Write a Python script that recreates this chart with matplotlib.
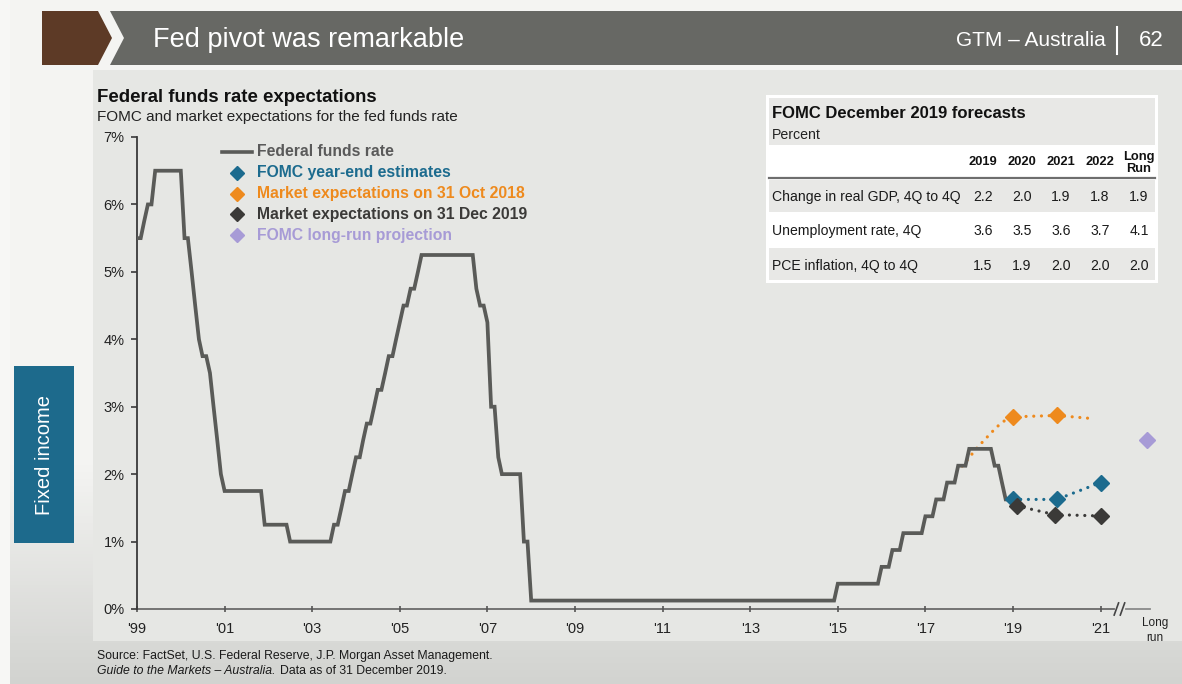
import numpy as np
import pandas as pd
import matplotlib
matplotlib.use('Agg')
import matplotlib.pyplot as plt
from matplotlib.patches import Rectangle, Polygon
from matplotlib.lines import Line2D

plt.rcParams['font.family'] = ['Liberation Sans', 'DejaVu Sans']

# ---------------- data ----------------
# month-end fed funds target (midpoint of range after 2008), Dec 1999 .. Dec 2019
fed_funds = [
    5.50,                                                                          # Dec 1999
    5.50, 5.75, 6.00, 6.00, 6.50, 6.50, 6.50, 6.50, 6.50, 6.50, 6.50, 6.50,        # 2000
    5.50, 5.50, 5.00, 4.50, 4.00, 3.75, 3.75, 3.50, 3.00, 2.50, 2.00, 1.75,        # 2001
    1.75, 1.75, 1.75, 1.75, 1.75, 1.75, 1.75, 1.75, 1.75, 1.75, 1.25, 1.25,        # 2002
    1.25, 1.25, 1.25, 1.25, 1.25, 1.00, 1.00, 1.00, 1.00, 1.00, 1.00, 1.00,        # 2003
    1.00, 1.00, 1.00, 1.00, 1.00, 1.25, 1.25, 1.50, 1.75, 1.75, 2.00, 2.25,        # 2004
    2.25, 2.50, 2.75, 2.75, 3.00, 3.25, 3.25, 3.50, 3.75, 3.75, 4.00, 4.25,        # 2005
    4.50, 4.50, 4.75, 4.75, 5.00, 5.25, 5.25, 5.25, 5.25, 5.25, 5.25, 5.25,        # 2006
    5.25, 5.25, 5.25, 5.25, 5.25, 5.25, 5.25, 5.25, 4.75, 4.50, 4.50, 4.25,        # 2007
    3.00, 3.00, 2.25, 2.00, 2.00, 2.00, 2.00, 2.00, 2.00, 1.00, 1.00, 0.125,       # 2008
    0.125, 0.125, 0.125, 0.125, 0.125, 0.125, 0.125, 0.125, 0.125, 0.125, 0.125, 0.125,  # 2009
    0.125, 0.125, 0.125, 0.125, 0.125, 0.125, 0.125, 0.125, 0.125, 0.125, 0.125, 0.125,  # 2010
    0.125, 0.125, 0.125, 0.125, 0.125, 0.125, 0.125, 0.125, 0.125, 0.125, 0.125, 0.125,  # 2011
    0.125, 0.125, 0.125, 0.125, 0.125, 0.125, 0.125, 0.125, 0.125, 0.125, 0.125, 0.125,  # 2012
    0.125, 0.125, 0.125, 0.125, 0.125, 0.125, 0.125, 0.125, 0.125, 0.125, 0.125, 0.125,  # 2013
    0.125, 0.125, 0.125, 0.125, 0.125, 0.125, 0.125, 0.125, 0.125, 0.125, 0.125, 0.125,  # 2014
    0.125, 0.125, 0.125, 0.125, 0.125, 0.125, 0.125, 0.125, 0.125, 0.125, 0.125, 0.375,  # 2015
    0.375, 0.375, 0.375, 0.375, 0.375, 0.375, 0.375, 0.375, 0.375, 0.375, 0.375, 0.625,  # 2016
    0.625, 0.625, 0.875, 0.875, 0.875, 1.125, 1.125, 1.125, 1.125, 1.125, 1.125, 1.375,  # 2017
    1.375, 1.375, 1.625, 1.625, 1.625, 1.875, 1.875, 1.875, 2.125, 2.125, 2.125, 2.375,  # 2018
    2.375, 2.375, 2.375, 2.375, 2.375, 2.375, 2.125, 2.125, 1.875, 1.625, 1.625, 1.625,  # 2019
]
months = pd.date_range('1999-12-31', '2019-12-31', freq='ME')

# market expectations on 31 Oct 2018 (decimal year, %)
oct18_path_x = [2018.84, 2019.18, 2019.41, 2019.63, 2019.86, 2020.00, 2021.00, 2021.71]
oct18_path_y = [2.12, 2.39, 2.55, 2.70, 2.82, 2.85, 2.87, 2.83]
oct18_mark_x = [2020.00, 2021.00]
oct18_mark_y = [2.85, 2.87]

# FOMC year-end estimates (end 2019, 2020, 2021)
fomc_x = [2020.00, 2021.00, 2022.00]
fomc_y = [1.625, 1.625, 1.875]

# market expectations on 31 Dec 2019
dec19_x = [2020.08, 2020.95, 2022.00]
dec19_y = [1.53, 1.40, 1.38]

# FOMC long-run projection
long_run_x = 2023.06
long_run_y = 2.5

year_ticks = [2000, 2002, 2004, 2006, 2008, 2010, 2012, 2014, 2016, 2018, 2020, 2022]
year_labels = ["'99", "'01", "'03", "'05", "'07", "'09", "'11", "'13", "'15", "'17", "'19", "'21"]

table_cols = ['2019', '2020', '2021', '2022']
table_rows = ['Change in real GDP, 4Q to 4Q', 'Unemployment rate, 4Q', 'PCE inflation, 4Q to 4Q']
gdp = [2.2, 2.0, 1.9, 1.8, 1.9]
unemp = [3.6, 3.5, 3.6, 3.7, 4.1]
pce = [1.5, 1.9, 2.0, 2.0, 2.0]

# ---------------- colours ----------------
c_line = '#5a5b58'
c_blue = '#1c6b8e'
c_orange = '#ee8a1d'
c_dark = '#3b3a38'
c_lav = '#a79bd6'

W, H = 1182, 684


def fx(px):
    return px / W


def fy(py):
    return 1 - py / H


fig = plt.figure(figsize=(W / 100, H / 100), dpi=100)
fig.patch.set_facecolor('#f4f4f2')

# background gradient (darker toward the bottom)
bg = fig.add_axes([0, 0, 1, 1], zorder=-10)
grad = np.linspace(0, 1, 200)
grad = np.clip((grad - 0.68) / 0.32, 0, 1)
bg.imshow(grad[:, None], aspect='auto', cmap=matplotlib.colors.LinearSegmentedColormap.from_list(
    'g', ['#f4f4f2', '#d2d3d0']), extent=[0, 1, 0, 1], origin='upper')
bg.axis('off')
fig.patches.append(Rectangle((0, 0), fx(10), 1, transform=fig.transFigure,
                             facecolor='#f7f7f5', edgecolor='none', zorder=-5))

# chart panel
fig.patches.append(Rectangle((fx(93), fy(641)), fx(1182) - fx(93), fy(70) - fy(641),
                             transform=fig.transFigure, facecolor='#e6e7e4',
                             edgecolor='none', zorder=-5))

# banner
fig.patches.append(Polygon([(fx(42), fy(11)), (fx(98), fy(11)), (fx(112), fy(38)),
                            (fx(98), fy(65)), (fx(42), fy(65))], closed=True,
                           transform=fig.transFigure, facecolor='#5d3a26', edgecolor='none'))
fig.patches.append(Polygon([(fx(110), fy(11)), (fx(1182), fy(11)), (fx(1182), fy(65)),
                            (fx(110), fy(65)), (fx(124), fy(38))], closed=True,
                           transform=fig.transFigure, facecolor='#676864', edgecolor='none'))
fig.text(fx(153), fy(40), 'Fed pivot was remarkable', color='white', fontsize=19.5,
         va='center', ha='left')
fig.text(fx(1106), fy(40), 'GTM \u2013 Australia', color='white', fontsize=15,
         va='center', ha='right')
fig.add_artist(Line2D([fx(1117), fx(1117)], [fy(27), fy(54)], transform=fig.transFigure,
                      color='white', lw=1.5))
fig.text(fx(1151), fy(40), '62', color='white', fontsize=16, va='center', ha='center')

# side tab
fig.patches.append(Rectangle((fx(14), fy(543)), fx(74) - fx(14), fy(366) - fy(543),
                             transform=fig.transFigure, facecolor='#1d6a8c', edgecolor='none'))
fig.text(fx(44), fy(455), 'Fixed income', color='white', fontsize=14.5, rotation=90,
         va='center', ha='center')

# titles
fig.text(fx(97), fy(97), 'Federal funds rate expectations', fontsize=13.4, fontweight='bold',
         color='#111111', va='center')
fig.text(fx(97), fy(117), 'FOMC and market expectations for the fed funds rate', fontsize=11,
         color='#222222', va='center')

# ---------------- main axes ----------------
ax = fig.add_axes([fx(137), fy(609), fx(1150) - fx(137), fy(137) - fy(609)])
ax.patch.set_visible(False)
ax.set_xlim(2000, 2000 + (1150 - 137) / 43.8)
ax.set_ylim(0, 7)

xdec = months.year + months.dayofyear / (365 + months.is_leap_year.astype(int))
ax.plot(xdec, fed_funds, color=c_line, lw=2.7, solid_joinstyle='miter', zorder=3)

dot = dict(linestyle=(0, (0.01, 2.4)), lw=2.3, dash_capstyle='round')
ax.plot(oct18_path_x, oct18_path_y, color=c_orange, zorder=2, **dot)
ax.plot(oct18_mark_x, oct18_mark_y, 'D', color=c_orange, ms=8.5, zorder=4)
ax.plot(fomc_x, fomc_y, color=c_blue, zorder=4, **dot)
ax.plot(fomc_x, fomc_y, 'D', color=c_blue, ms=8.5, zorder=5)
ax.plot(dec19_x, dec19_y, color=c_dark, zorder=4, **dot)
ax.plot(dec19_x, dec19_y, 'D', color=c_dark, ms=8.5, zorder=6)
ax.plot([long_run_x], [long_run_y], 'D', color=c_lav, ms=8.5, zorder=4, clip_on=False)

for s in ['top', 'right', 'bottom']:
    ax.spines[s].set_visible(False)
ax.spines['left'].set_color('#3a3a3a')
ax.spines['left'].set_linewidth(1.3)
ax.set_yticks(range(0, 8))
ax.set_yticklabels([f'{v}%' for v in range(0, 8)])
ax.tick_params(axis='y', direction='out', length=4, width=1.2, color='#3a3a3a',
               labelsize=10.5, labelcolor='#222222', pad=5)
ax.set_xticks(year_ticks)
ax.set_xticklabels(year_labels)
ax.tick_params(axis='x', direction='inout', length=5, width=1.2, color='#555555',
               labelsize=10.5, labelcolor='#222222', pad=7)

# x axis line with break before "Long run"
ax.plot([2000, 2022.30], [0, 0], color='#6a6a6a', lw=1.3, clip_on=False, zorder=1)
ax.plot([2022.58, 2023.13], [0, 0], color='#8a8a8a', lw=1.3, clip_on=False, zorder=1)
for bx in [2022.36, 2022.50]:
    ax.plot([bx - 0.05, bx + 0.05], [-0.09, 0.09], color='#444444', lw=1.2, clip_on=False)
ax.text(2023.24, -0.12, 'Long\nrun', ha='center', va='top',
        fontsize=8.5, color='#222222', linespacing=1.3)

# legend
fig.add_artist(Line2D([fx(222), fx(252)], [fy(152), fy(152)], transform=fig.transFigure,
                      color=c_line, lw=2.6))
leg = [('Federal funds rate', '#5a5a5a', None),
       ('FOMC year-end estimates', c_blue, c_blue),
       ('Market expectations on 31 Oct 2018', c_orange, c_orange),
       ('Market expectations on 31 Dec 2019', c_dark, c_dark),
       ('FOMC long-run projection', c_lav, c_lav)]
for i, (lab, tc, mc) in enumerate(leg):
    ly = 152 + i * 20.8
    if mc is not None:
        fig.add_artist(Line2D([fx(237)], [fy(ly)], transform=fig.transFigure, marker='D',
                              ms=7, color=mc, lw=0))
    fig.text(fx(257), fy(ly), lab, color=tc, fontsize=11.3, fontweight='bold', va='center')


# ---------------- FOMC table ----------------
def frect(x0, y0, x1, y1, fc):
    fig.patches.append(Rectangle((fx(x0), fy(y1)), fx(x1) - fx(x0), fy(y0) - fy(y1),
                                 transform=fig.transFigure, facecolor=fc, edgecolor='none'))


frect(766, 95, 1158, 283, 'white')
frect(769, 98, 1155, 145, '#e8e8e6')
frect(769, 180, 1155, 212, '#e8e8e6')
frect(769, 248, 1155, 280, '#e8e8e6')
fig.add_artist(Line2D([fx(769), fx(1155)], [fy(178), fy(178)], transform=fig.transFigure,
                      color='#6e6e6e', lw=1.6))
fig.text(fx(772), fy(113), 'FOMC December 2019 forecasts', fontsize=12, fontweight='bold',
         color='#111111', va='center')
fig.text(fx(772), fy(135), 'Percent', fontsize=10.2, color='#222222', va='center')

col_x = [983, 1022, 1061, 1100, 1139]
for cx, lab in zip(col_x, table_cols):
    fig.text(fx(cx), fy(162), lab, fontsize=9.3, fontweight='bold', color='#111111',
             ha='center', va='center')
fig.text(fx(1139), fy(163), 'Long\nRun', fontsize=9.3, fontweight='bold', color='#111111',
         ha='center', va='center', linespacing=1.05)

row_y = [197, 231, 266]
for ry, lab, vals in zip(row_y, table_rows, [gdp, unemp, pce]):
    fig.text(fx(772), fy(ry), lab, fontsize=10.1, color='#1a1a1a', va='center')
    for cx, v in zip(col_x, vals):
        fig.text(fx(cx), fy(ry), f'{v:.1f}', fontsize=10.1, color='#1a1a1a',
                 ha='center', va='center')

# footer
fig.text(fx(97), fy(656), 'Source: FactSet, U.S. Federal Reserve, J.P. Morgan Asset Management.',
         fontsize=8.8, color='#1a1a1a', va='center')
t1 = fig.text(fx(97), fy(671), 'Guide to the Markets \u2013 Australia.', fontsize=8.8,
              style='italic', color='#1a1a1a', va='center')
fig.canvas.draw()
bb = t1.get_window_extent()
fig.text(bb.x1 / W + fx(5), fy(671), 'Data as of 31 December 2019.', fontsize=8.8,
         color='#1a1a1a', va='center')

fig.savefig('out.png', dpi=100, facecolor=fig.get_facecolor())
